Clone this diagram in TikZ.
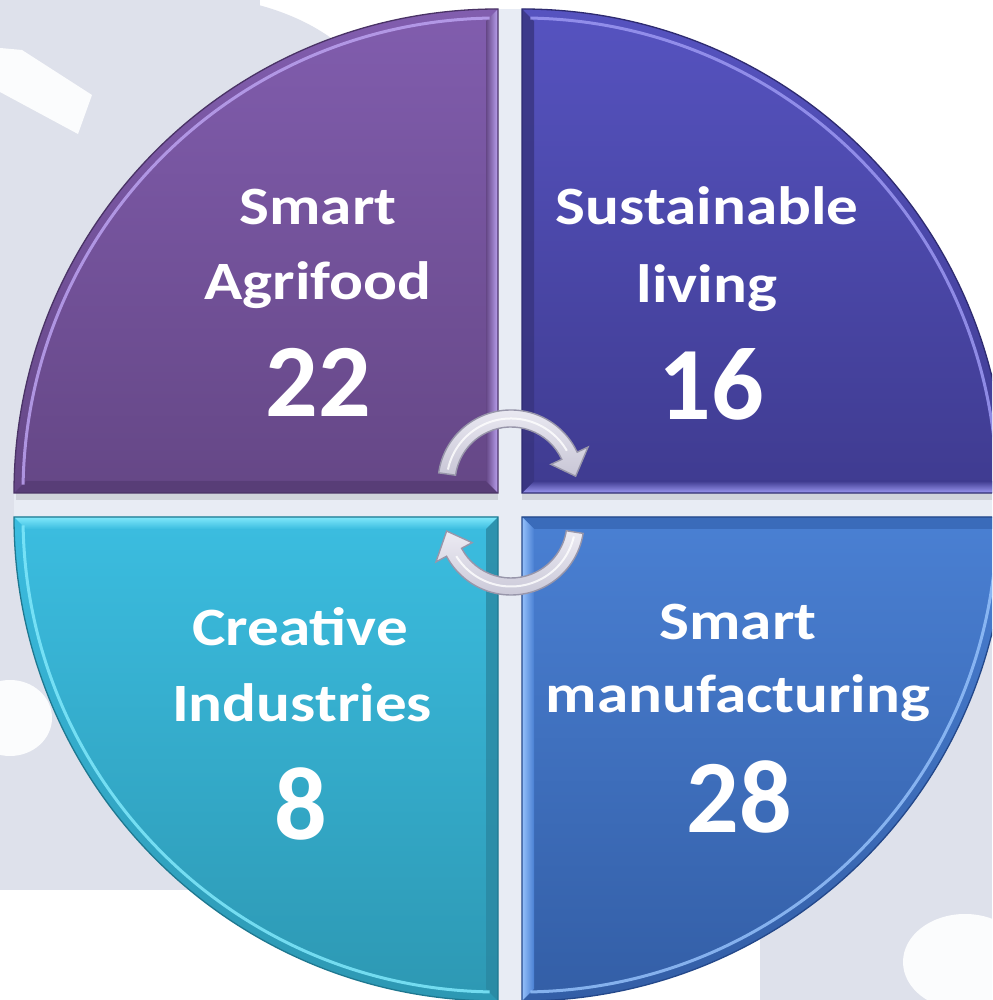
\documentclass[tikz,border=0pt]{standalone}
\usepackage{fontspec}
\setmainfont{Carlito}
\newcommand{\widelbl}[1]{\scalebox{1.17}[1]{#1}}
\definecolor{bgA}{HTML}{DEE1EB}
\definecolor{gapc}{HTML}{E8ECF4}
\definecolor{tlA}{HTML}{815DAE}
\definecolor{tlB}{HTML}{654786}
\definecolor{tlO}{HTML}{4A3366}
\definecolor{tlL}{HTML}{BBA2F0}
\definecolor{tlD}{HTML}{553B74}
\definecolor{trA}{HTML}{5653C0}
\definecolor{trB}{HTML}{3F3B90}
\definecolor{trO}{HTML}{2E2B70}
\definecolor{trL}{HTML}{9C98F2}
\definecolor{trD}{HTML}{38347F}
\definecolor{blA}{HTML}{3BBDE0}
\definecolor{blB}{HTML}{2D98B3}
\definecolor{blO}{HTML}{1F7890}
\definecolor{blL}{HTML}{80E8FB}
\definecolor{blD}{HTML}{2A88A2}
\definecolor{brA}{HTML}{4A80D3}
\definecolor{brB}{HTML}{335EA6}
\definecolor{brO}{HTML}{24488A}
\definecolor{brL}{HTML}{94C0FA}
\definecolor{brD}{HTML}{3766B4}
\definecolor{arrowA}{HTML}{ECEBF3}
\definecolor{arrowB}{HTML}{C8C6D6}
\definecolor{arrowedge}{HTML}{9896AA}
\begin{document}
\begin{tikzpicture}[x=1pt,y=1pt,
  lbl/.style={text=white,font=\fontsize{54}{60}\selectfont\bfseries,anchor=base,inner sep=0pt},
  num/.style={text=white,font=\fontsize{104}{110}\selectfont\bfseries,anchor=base,inner sep=0pt},
  outline/.style={line width=1.3pt},
  hl/.style={line width=3pt,opacity=0.85},
  arrowband/.style={draw=arrowedge,line width=1.4pt,top color=arrowA,bottom color=arrowB}]
\useasboundingbox (0,0) rectangle (992,1000);
\clip (0,0) rectangle (992,1000);
% background
\fill[white] (0,0) rectangle (992,1000);
\fill[bgA] (0,110) rectangle (260,1000);
\fill[bgA] (180,880) ellipse [x radius=200,y radius=125];
\fill[bgA] (760,0) rectangle (992,440);
\fill[white,opacity=0.9] (0,952) -- (22,950) -- (92,905) -- (78,866) -- (0,908) -- cycle;
\fill[white,opacity=0.9] (10,282) ellipse [x radius=42,y radius=38];
\fill[white,opacity=0.9] (965,38) ellipse [x radius=62,y radius=48];
% gaps
\fill[gapc] (14,483) rectangle (992,507);
\fill[gapc] (498,0) rectangle (522,991);
\fill[black,opacity=0.10] (16,500) rectangle (498,507);
\fill[black,opacity=0.10] (522,500) rectangle (992,507);
% ---------- top-left quadrant ----------
\shade[top color=tlA,bottom color=tlB] (498,507) -- (14,507) arc[start angle=180,end angle=90,radius=484] -- cycle;
\fill[tlD,opacity=0.8] (14,507) -- (498,507) -- (486,519) -- (26.15,519) -- cycle;
\shade[left color=tlB,right color=tlL] (498,507) -- (498,991) -- (486,978.85) -- (486,519) -- cycle;
\begin{scope}[shift={(498,507)}]
\draw[tlL,hl] (179:475) arc[start angle=179,end angle=91,radius=475];
\end{scope}
\draw[tlO,outline] (498,507) -- (14,507) arc[start angle=180,end angle=90,radius=484] -- cycle;
% ---------- top-right quadrant ----------
\shade[top color=trA,bottom color=trB] (522,507) -- (522,991) arc[start angle=90,end angle=0,radius=484] -- cycle;
\shade[top color=trB,bottom color=trL] (522,507) -- (1006,507) -- (993.85,519) -- (534,519) -- cycle;
\fill[trD,opacity=0.8] (522,507) -- (534,519) -- (534,978.85) -- (522,991) -- cycle;
\begin{scope}[shift={(522,507)}]
\draw[trL,hl] (89:475) arc[start angle=89,end angle=1,radius=475];
\end{scope}
\draw[trO,outline] (522,507) -- (522,991) arc[start angle=90,end angle=0,radius=484] -- cycle;
% ---------- bottom-left quadrant ----------
\shade[top color=blA,bottom color=blB] (498,483) -- (14,483) arc[start angle=180,end angle=270,radius=484] -- cycle;
\shade[top color=blL,bottom color=blA] (14,483) -- (498,483) -- (486,471) -- (26.15,471) -- cycle;
\fill[blD,opacity=0.8] (498,483) -- (498,-1) -- (486,11.15) -- (486,471) -- cycle;
\begin{scope}[shift={(498,483)}]
\draw[blL,hl] (181:475) arc[start angle=181,end angle=269,radius=475];
\end{scope}
\draw[blO,outline] (498,483) -- (14,483) arc[start angle=180,end angle=270,radius=484] -- cycle;
% ---------- bottom-right quadrant ----------
\shade[top color=brA,bottom color=brB] (522,483) -- (1006,483) arc[start angle=0,end angle=-90,radius=484] -- cycle;
\fill[brD,opacity=0.8] (522,483) -- (1006,483) -- (993.85,471) -- (534,471) -- cycle;
\shade[left color=brL,right color=brA] (522,483) -- (534,471) -- (534,11.15) -- (522,-1) -- cycle;
\begin{scope}[shift={(522,483)}]
\draw[brL,hl] (-89:475) arc[start angle=-89,end angle=-1,radius=475];
\end{scope}
\draw[brO,outline] (522,483) -- (1006,483) arc[start angle=0,end angle=-90,radius=484] -- cycle;
% ---------- circular arrows ----------
\begin{scope}[shift={(511,517)}]
\path[arrowband] (172:73) arc[start angle=172,end angle=25,radius=73] -- (25:85) -- (6:65) -- (25:44) -- (25:56) arc[start angle=25,end angle=172,radius=56] -- cycle;
\draw[white,line width=2pt,opacity=0.8] (168:64.5) arc[start angle=168,end angle=30,radius=64.5];
\end{scope}
\begin{scope}[shift={(511,478)}]
\path[arrowband] (-9:56) -- (-9:73) arc[start angle=-9,end angle=-152,radius=73] -- (-152:85) -- (-172:65) -- (-152:44) -- (-152:56) arc[start angle=-152,end angle=-9,radius=56] -- cycle;
\draw[white,line width=2pt,opacity=0.8] (-13:64.5) arc[start angle=-13,end angle=-148,radius=64.5];
\end{scope}
% ---------- texts ----------
\node[lbl] (tl1) at (318,775) {\widelbl{Smart}};
\node[lbl] (tl2) at (318,700) {\widelbl{Agrifood}};
\node[num] (tl3) at (318,583) {22};
\node[lbl] (tr1) at (707,775) {\widelbl{Sustainable}};
\node[lbl] (tr2) at (707,697) {\widelbl{living}};
\node[num] (tr3) at (711,580) {16};
\node[lbl] (bl1) at (300,354) {\widelbl{Creative}};
\node[lbl] (bl2) at (302,278) {\widelbl{Industries}};
\node[num] (bl3) at (301,160) {8};
\node[lbl] (br1) at (738,360) {\widelbl{Smart}};
\node[lbl] (br2) at (738,287) {\widelbl{manufacturing}};
\node[num] (br3) at (739,167) {28};
\end{tikzpicture}
\end{document}
